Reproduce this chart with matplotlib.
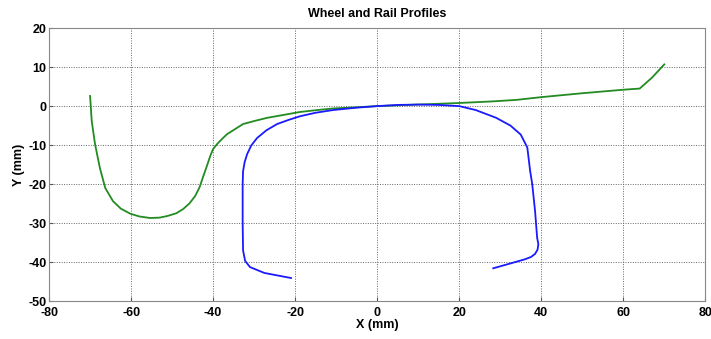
import matplotlib
matplotlib.use('Agg')
import matplotlib.pyplot as plt

# wheel profile (mm)
wheel_x = [-70, -69.6, -68.8, -67.6, -66.3, -64.4, -62.5, -60.2, -58, -55.4, -53, -51.2, -49,
           -47.3, -45.8, -44.4, -43.3, -42.4, -41.5, -40.7, -40, -39, -37.8, -36.6, -34.5,
           -32.7, -29.5, -26.8, -22.5, -18.8, -14.5, -10.7, -5, 0, 10, 20, 28, 34,
           40, 50, 60, 64, 67, 70]
wheel_y = [2.6, -3.8, -9.7, -15.9, -21, -24.4, -26.3, -27.6, -28.3, -28.7, -28.6, -28.2, -27.5,
           -26.4, -25, -23.1, -20.8, -18, -15.3, -12.8, -11, -9.7, -8.4, -7.2, -5.8,
           -4.6, -3.7, -3, -2.2, -1.5, -1, -0.6, -0.3, 0,
           0.4, 0.8, 1.2, 1.6, 2.3, 3.3, 4.2, 4.5, 7.3, 10.7]

# rail profile (mm)
rail_x = [-21, -24, -27.5, -31, -32.2, -32.7, -32.8, -32.8, -32.7, -32.3, -31.7, -30.7, -29.3,
          -27, -24.4, -21.5, -18.8, -15, -10.7, -5, 0, 5, 10, 15, 20, 24, 29, 32.5, 35, 36.6,
          37.3, 37.8, 38.5, 39, 39.3, 39.1, 38.5, 37.5, 36, 32, 28.3]
rail_y = [-44.1, -43.5, -42.8, -41.3, -39.7, -37, -30, -20, -16.7, -14.3, -12.3, -10.1, -8.2,
          -6.2, -4.6, -3.5, -2.6, -1.7, -1, -0.4, 0, 0.3, 0.4, 0.3, 0, -1, -3, -5, -7.3, -10.6,
          -16.7, -20, -27, -33.8, -35.4, -36.8, -37.9, -38.7, -39.3, -40.5, -41.6]

plt.rcParams['font.family'] = ['Liberation Sans', 'DejaVu Sans']
plt.rcParams['font.weight'] = 'bold'
plt.rcParams['axes.unicode_minus'] = False

fig, ax = plt.subplots(figsize=(7.11, 3.39), dpi=100)
fig.subplots_adjust(left=0.069, right=0.992, top=0.917, bottom=0.112)

ax.plot(wheel_x, wheel_y, color='#228B22', linewidth=1.3)
ax.plot(rail_x, rail_y, color='#1a1aff', linewidth=1.3)

ax.set_xlim(-80, 80)
ax.set_ylim(-50, 20)
ax.set_xticks(range(-80, 81, 20))
ax.set_yticks(range(-50, 21, 10))
ax.grid(True, linestyle=(0, (1, 1.5)), color='#666666', linewidth=0.7)
ax.tick_params(direction='in', length=3, labelsize=9, color='#555555', pad=2)
ax.tick_params(axis='x', pad=4)
for s in ax.spines.values():
    s.set_color('#888888')
for lbl in ax.get_xticklabels() + ax.get_yticklabels():
    lbl.set_fontweight('bold')

ax.set_title('Wheel and Rail Profiles', fontsize=9, fontweight='bold', pad=8)
ax.set_xlabel('X (mm)', fontsize=9, fontweight='bold', labelpad=0)
ax.set_ylabel('Y (mm)', fontsize=9, fontweight='bold', labelpad=2)

fig.savefig('out.png', dpi=100)
